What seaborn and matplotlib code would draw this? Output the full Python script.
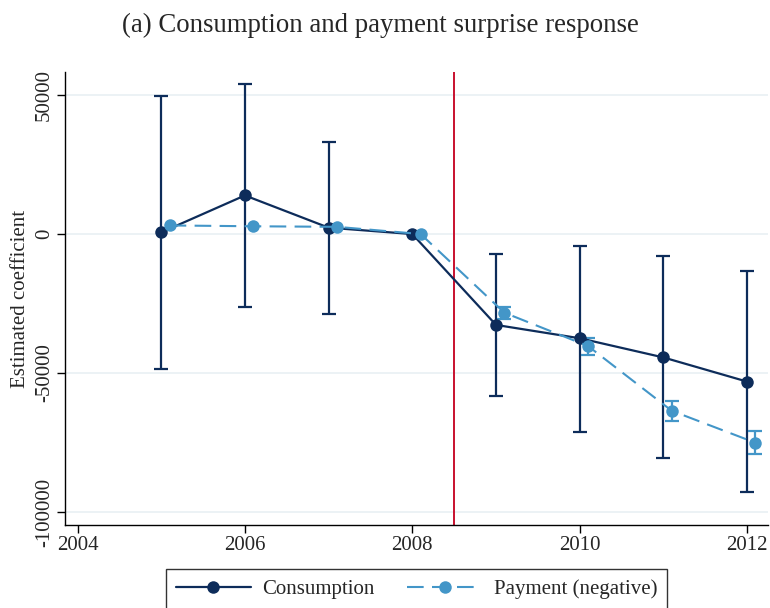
import numpy as np
import pandas as pd
import matplotlib
matplotlib.use("Agg")
import matplotlib.pyplot as plt
import seaborn as sns

# Estimated coefficients
years = [2005, 2006, 2007, 2008, 2009, 2010, 2011, 2012]
cons_coef = [600, 13900, 2300, 0, -32700, -37500, -44400, -53100]
cons_lo = [-48500, -26100, -28700, 0, -58200, -71100, -80700, -92900]
cons_hi = [49700, 54000, 33300, 0, -7200, -4200, -7900, -13200]

pay_coef = [3100, 2800, 2600, 0, -28300, -40300, -63600, -75100]
pay_lo = [3100, 2800, 2600, 0, -30600, -43400, -67300, -79300]
pay_hi = [3100, 2800, 2600, 0, -26100, -37500, -60000, -70900]

xticks = [2004, 2006, 2008, 2010, 2012]
yticks = [-100000, -50000, 0, 50000]

navy = "#0d2c5a"
lightblue = "#4396c8"

sns.set_style("white")
plt.rcParams["font.family"] = ["Liberation Serif", "DejaVu Serif"]

cons = pd.DataFrame({"year": years, "coef": cons_coef, "lo": cons_lo, "hi": cons_hi})
pay = pd.DataFrame({"year": np.array(years) + 0.1, "coef": pay_coef, "lo": pay_lo, "hi": pay_hi})

fig = plt.figure(figsize=(7.7, 6.08), dpi=100)
ax = fig.add_axes([0.0844, 0.1365, 0.913, 0.745])

# grid lines
for yt in yticks:
    ax.axhline(yt, color="#e9f0f3", lw=1.2, zorder=0)

# confidence intervals (skip the reference year 2008)
ci = cons[cons["year"] != 2008]
ax.errorbar(ci["year"], ci["coef"], yerr=[ci["coef"] - ci["lo"], ci["hi"] - ci["coef"]],
            fmt="none", ecolor=navy, elinewidth=1.6, capsize=5, capthick=1.6, zorder=2)
pci = pay[pay["year"] > 2009]
ax.errorbar(pci["year"], pci["coef"], yerr=[pci["coef"] - pci["lo"], pci["hi"] - pci["coef"]],
            fmt="none", ecolor=lightblue, elinewidth=1.6, capsize=5, capthick=1.6, zorder=2)

sns.lineplot(data=cons, x="year", y="coef", ax=ax, color=navy, lw=1.6, marker="o",
             markersize=9, markeredgewidth=0, label="Consumption", zorder=3)
sns.lineplot(data=pay, x="year", y="coef", ax=ax, color=lightblue, lw=1.5, marker="o",
             markersize=9, markeredgewidth=0, dashes=(8, 4), label="Payment (negative)", zorder=3)

ax.axvline(2008.5, color="#c8102e", lw=1.4, zorder=1)

ax.set_xlim(2003.85, 2012.25)
ax.set_ylim(-104700, 58300)
ax.set_xticks(xticks)
ax.set_yticks(yticks)
ax.set_yticklabels([str(v) for v in yticks], rotation=90, va="center")
ax.tick_params(axis="both", labelsize=15, length=6, width=1, color="black",
               direction="out", bottom=True, left=True, pad=2)
ax.set_xlabel("")
ax.set_ylabel("Estimated coefficient", fontsize=15)
ax.yaxis.set_label_coords(-0.05, 0.5)

sns.despine(ax=ax)
for s in ["left", "bottom"]:
    ax.spines[s].set_color("black")
    ax.spines[s].set_linewidth(1)

fig.text(0.494, 0.958, "(a) Consumption and payment surprise response", fontsize=19.3,
         ha="center", va="center")

leg = ax.legend(loc="upper center", bbox_to_anchor=(0.5, -0.074), ncol=2, fontsize=15,
                frameon=True, fancybox=False, edgecolor="black", handlelength=3.6,
                handletextpad=0.55, columnspacing=1.55, borderpad=0.5)
leg.get_frame().set_linewidth(1)

fig.savefig("out.png", dpi=100)
